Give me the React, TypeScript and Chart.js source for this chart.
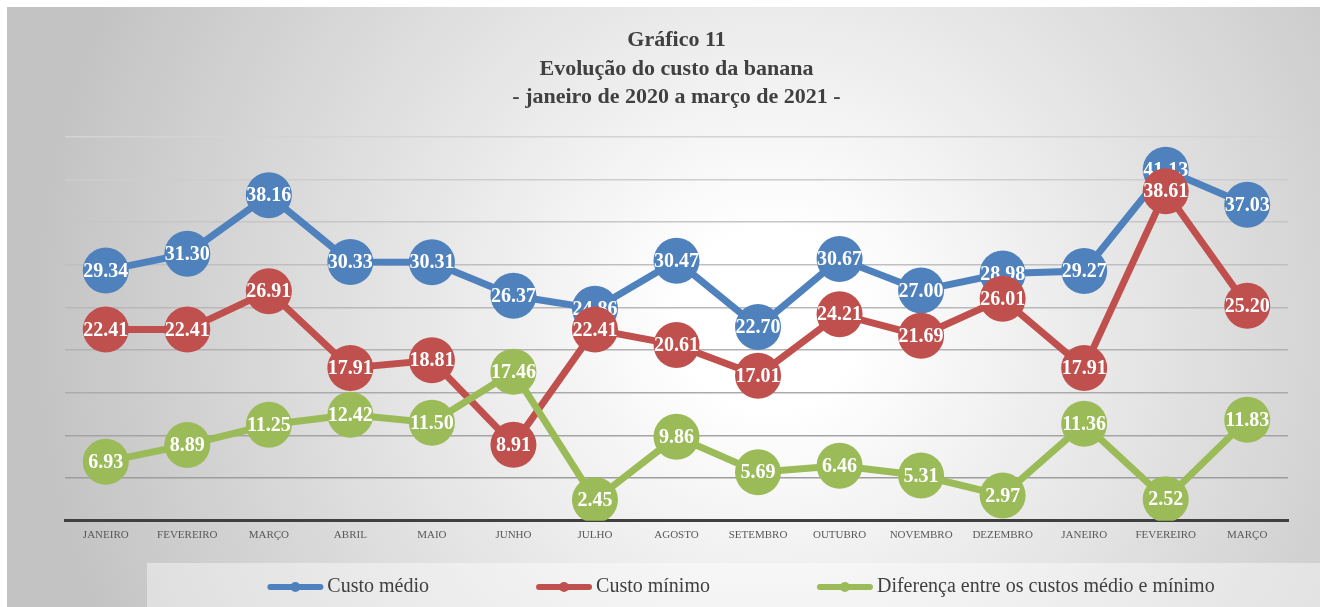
import React, { useEffect, useRef } from 'react';
import { Chart, registerables } from 'chart.js';

Chart.register(...registerables);

const categories = ['JANEIRO', 'FEVEREIRO', 'MARÇO', 'ABRIL', 'MAIO', 'JUNHO', 'JULHO', 'AGOSTO', 'SETEMBRO', 'OUTUBRO', 'NOVEMBRO', 'DEZEMBRO', 'JANEIRO', 'FEVEREIRO', 'MARÇO'];
const custoMedio = [29.34, 31.30, 38.16, 30.33, 30.31, 26.37, 24.86, 30.47, 22.70, 30.67, 27.00, 28.98, 29.27, 41.13, 37.03];
const custoMinimo = [22.41, 22.41, 26.91, 17.91, 18.81, 8.91, 22.41, 20.61, 17.01, 24.21, 21.69, 26.01, 17.91, 38.61, 25.20];
const diferenca = [6.93, 8.89, 11.25, 12.42, 11.50, 17.46, 2.45, 9.86, 5.69, 6.46, 5.31, 2.97, 11.36, 2.52, 11.83];
const seriesNames = ['Custo médio', 'Custo mínimo', 'Diferença entre os custos médio e mínimo'];
const seriesColors = ['#4F81BD', '#C0504D', '#9BBB59'];
const titleLines = ['Gráfico 11', 'Evolução do custo da banana', '- janeiro de 2020 a março de 2021 -'];
const yMin = 0;
const yMax = 45;
const yStep = 5;

const SERIF = '"Liberation Serif", "Times New Roman", serif';

const backgroundPlugin = {
  id: 'bg',
  beforeDraw(chart: any) {
    const { ctx, width, height } = chart;
    ctx.save();
    ctx.fillStyle = '#ffffff';
    ctx.fillRect(0, 0, width, height);
    const g = ctx.createRadialGradient(770, 320, 0, 770, 320, 740);
    g.addColorStop(0, '#ffffff');
    g.addColorStop(0.12, '#ffffff');
    g.addColorStop(1, '#c3c3c3');
    ctx.fillStyle = g;
    ctx.fillRect(7, 7, width - 7, height - 7);
    ctx.fillStyle = 'rgba(255,255,255,0.42)';
    ctx.fillRect(147, 563, width - 147, height - 563);
    ctx.restore();
  },
};

const dataLabelPlugin = {
  id: 'dataLabels',
  afterDatasetDraw(chart: any, args: any) {
    const { ctx } = chart;
    const meta = args.meta;
    const ds = chart.data.datasets[args.index];
    ctx.save();
    ctx.fillStyle = '#ffffff';
    ctx.font = `bold 20px ${SERIF}`;
    ctx.textAlign = 'center';
    ctx.textBaseline = 'middle';
    meta.data.forEach((pt: any, i: number) => {
      const v = ds.data[i] as number;
      ctx.fillText(v.toFixed(2), pt.x, pt.y + 1);
    });
    ctx.restore();
  },
};

const legendPlugin = {
  id: 'customLegend',
  afterDraw(chart: any) {
    const { ctx } = chart;
    ctx.save();
    ctx.font = `20px ${SERIF}`;
    const markerW = 56;
    const markerGap = 4;
    const itemGap = 107;
    const widths = seriesNames.map((n) => markerW + markerGap + ctx.measureText(n).width);
    const total = widths.reduce((a, b) => a + b, 0) + itemGap * (seriesNames.length - 1);
    let x = 741 - total / 2;
    const y = 587;
    seriesNames.forEach((name, i) => {
      const c = seriesColors[i];
      ctx.strokeStyle = c;
      ctx.lineWidth = 6;
      ctx.lineCap = 'round';
      ctx.beginPath();
      ctx.moveTo(x + 3, y);
      ctx.lineTo(x + markerW - 3, y);
      ctx.stroke();
      ctx.fillStyle = c;
      ctx.beginPath();
      ctx.arc(x + markerW / 2, y, 5, 0, Math.PI * 2);
      ctx.fill();
      ctx.fillStyle = '#404040';
      ctx.textAlign = 'left';
      ctx.textBaseline = 'middle';
      ctx.fillText(name, x + markerW + markerGap, y);
      x += widths[i] + itemGap;
    });
    ctx.restore();
  },
};

function gridColor(ctx: any) {
  const v = ctx.tick ? ctx.tick.value : 0;
  const t = (v - yMin) / (yMax - yMin);
  const c = Math.round(150 + t * 62);
  return `rgb(${c},${c},${c})`;
}

export default function App() {
  const ref = useRef<HTMLCanvasElement | null>(null);
  useEffect(() => {
    if (!ref.current) return;
    const series = [custoMedio, custoMinimo, diferenca];
    const chart = new Chart(ref.current, {
      type: 'line',
      data: {
        labels: categories,
        datasets: series.map((d, i) => ({
          label: seriesNames[i],
          data: d,
          borderColor: seriesColors[i],
          backgroundColor: seriesColors[i],
          pointBackgroundColor: seriesColors[i],
          pointBorderColor: seriesColors[i],
          pointBorderWidth: 0,
          pointRadius: 23,
          pointHoverRadius: 23,
          borderWidth: 7,
          tension: 0,
          fill: false,
          order: 3 - i,
        })),
      },
      options: {
        responsive: false,
        animation: false,
        layout: { padding: { left: 65, right: 32, top: 0, bottom: 57 } },
        plugins: {
          legend: { display: false },
          tooltip: { enabled: false },
          title: {
            display: true,
            text: titleLines,
            color: '#404040',
            font: { family: SERIF, size: 22, weight: 'bold', lineHeight: 1.3 },
            padding: { top: 26, bottom: 25 },
          },
        },
        scales: {
          x: {
            offset: true,
            grid: { display: false, drawTicks: false },
            border: { display: true, color: '#404040', width: 3 },
            ticks: {
              color: '#595959',
              font: { family: SERIF, size: 11 },
              padding: 8,
              maxRotation: 0,
              autoSkip: false,
            },
          },
          y: {
            min: yMin,
            max: yMax,
            ticks: { display: false, stepSize: yStep },
            grid: { color: gridColor, lineWidth: 1.5, drawTicks: false },
            border: { display: false },
          },
        },
      },
      plugins: [backgroundPlugin, dataLabelPlugin, legendPlugin],
    });
    return () => chart.destroy();
  }, []);
  return (
    <div style={{ position: 'absolute', left: 0, top: 0, width: 1320, height: 607 }}>
      <canvas ref={ref} width={1320} height={607} style={{ display: 'block' }} />
    </div>
  );
}
